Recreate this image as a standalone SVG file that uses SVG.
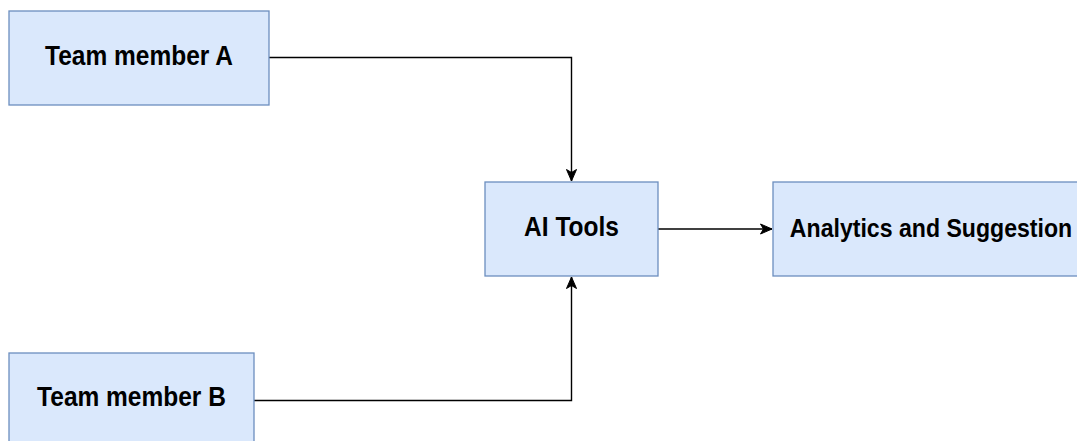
<svg xmlns="http://www.w3.org/2000/svg" width="1077" height="441" viewBox="0 0 1077 441">
  <style>
    .box { fill: #dae8fc; stroke: #6c8ebf; stroke-width: 1.3; }
    .label { font-family: "Liberation Sans", Arial, sans-serif; font-weight: bold; font-size: 24.5px; fill: #000; text-anchor: middle; }
    .edge { fill: none; stroke: #000; stroke-width: 1.4; }
  </style>
  <defs>
    <marker id="arrow" markerUnits="userSpaceOnUse" markerWidth="14" markerHeight="14" viewBox="0 0 14 14" refX="13" refY="7" orient="auto">
      <path d="M1.5,2 L13,7 L1.5,12 L4.5,7 Z" fill="#000" stroke="#000" stroke-width="1"/>
    </marker>
  </defs>

  <rect width="1077" height="441" fill="#fff"/>

  <g id="connectors">
    <path class="edge" d="M269,57.5 H571.5 V181" marker-end="url(#arrow)"/>
    <path class="edge" d="M254,400.5 H571.5 V277" marker-end="url(#arrow)"/>
    <path class="edge" d="M658,229 H772" marker-end="url(#arrow)"/>
  </g>

  <g id="team-member-a">
    <rect class="box" x="9" y="11" width="260" height="94"/>
    <text class="label" transform="translate(139,64.5) scale(1,1.1)">Team member A</text>
  </g>

  <g id="ai-tools">
    <rect class="box" x="485" y="182" width="173" height="94"/>
    <text class="label" transform="translate(571.5,236) scale(1,1.1)">AI Tools</text>
  </g>

  <g id="analytics">
    <rect class="box" x="773" y="182" width="316" height="94"/>
    <text class="label" style="font-size:23.1px" transform="translate(931,237) scale(1,1.12)">Analytics and Suggestion</text>
  </g>

  <g id="team-member-b">
    <rect class="box" x="9" y="353" width="245" height="94"/>
    <text class="label" transform="translate(131.5,406) scale(1,1.1)">Team member B</text>
  </g>
</svg>
